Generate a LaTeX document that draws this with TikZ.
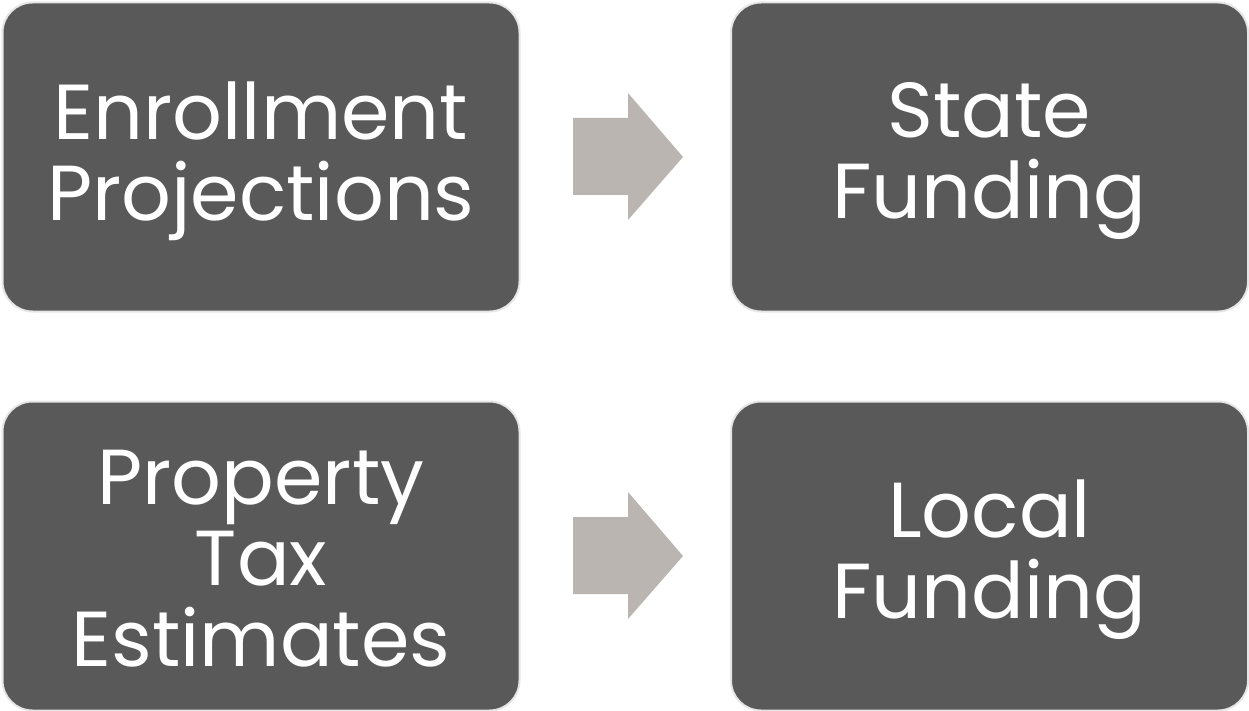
\documentclass[tikz,border=0pt]{standalone}
\usepackage{fontspec}
\setmainfont{Poppins}
\definecolor{boxfill}{HTML}{595959}
\definecolor{boxline}{HTML}{E6E6E6}
\definecolor{arrowfill}{HTML}{BBB5B1}
\begin{document}
\begin{tikzpicture}[x=1pt,y=-1pt,
  card/.style={draw=boxline,line width=2pt,fill=boxfill,rounded corners=30pt,
    minimum width=517pt,minimum height=309pt,text=white,align=center,
    font=\fontsize{78}{81}\selectfont,inner sep=0pt}]
\useasboundingbox (0,0) rectangle (1249,711);
\node[card] (enr) at (261,157) {};
\node[card] (sta) at (989.5,157) {};
\node[card] (pro) at (261,556) {};
\node[card] (loc) at (989.5,556) {};
\node[text=white,align=center,font=\fontsize{78}{81}\selectfont,inner sep=0pt] (enrt) at ([yshift=-4pt]enr.center) {Enrollment\\Projections};
\node[text=white,align=center,font=\fontsize{78}{81}\selectfont,inner sep=0pt] (stat) at ([yshift=-4pt]sta.center) {State\\Funding};
\node[text=white,align=center,font=\fontsize{78}{81}\selectfont,inner sep=0pt] (prot) at ([yshift=-3pt]pro.center) {Property\\Tax\\Estimates};
\node[text=white,align=center,font=\fontsize{78}{81}\selectfont,inner sep=0pt] (loct) at ([yshift=-4pt]loc.center) {Local\\Funding};
\fill[arrowfill] (573,118) -- (628,118) -- (628,93) -- (683,157) -- (628,220) -- (628,195) -- (573,195) -- cycle;
\fill[arrowfill] (573,517) -- (628,517) -- (628,492) -- (683,556) -- (628,619) -- (628,594) -- (573,594) -- cycle;
\end{tikzpicture}
\end{document}
